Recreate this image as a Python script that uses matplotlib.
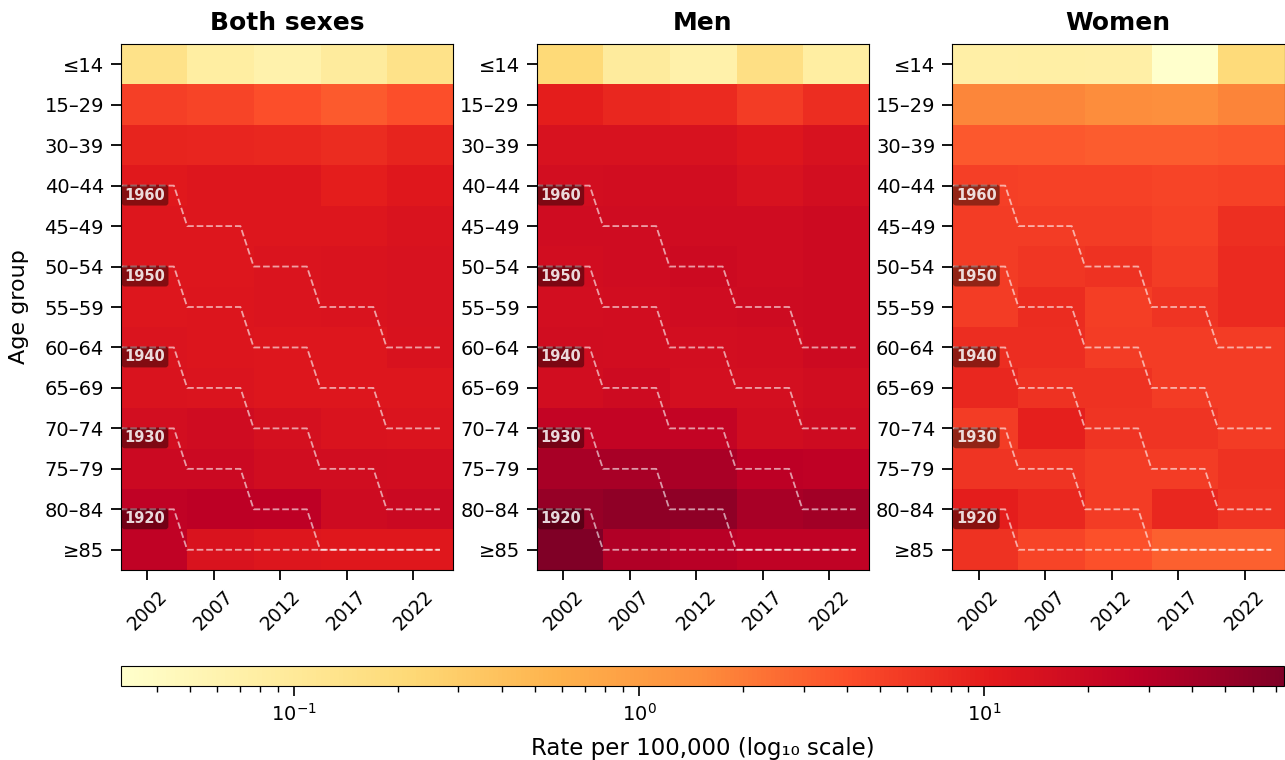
import numpy as np
import matplotlib
matplotlib.use("Agg")
import matplotlib.pyplot as plt
from matplotlib.colors import LogNorm

age_groups = ["≤14", "15–29", "30–39", "40–44", "45–49", "50–54", "55–59",
              "60–64", "65–69", "70–74", "75–79", "80–84", "≥85"]
years = [2002, 2007, 2012, 2017, 2022]
panel_titles = ["Both sexes", "Men", "Women"]

both = [
    [0.14, 0.08, 0.065, 0.09, 0.14],
    [5.2, 4.8, 4.0, 3.3, 4.0],
    [8.8, 8.5, 8.3, 7.5, 8.7],
    [11.0, 12.0, 12.0, 10.0, 11.5],
    [12.2, 12.3, 12.3, 12.3, 13.5],
    [12.0, 12.3, 12.8, 13.2, 14.2],
    [12.0, 12.5, 12.8, 13.2, 14.0],
    [12.8, 12.5, 12.3, 12.3, 13.8],
    [13.2, 12.8, 12.3, 12.0, 12.3],
    [16.0, 17.5, 15.0, 13.2, 12.8],
    [19.0, 19.0, 17.0, 17.0, 16.5],
    [25.0, 27.5, 27.0, 18.0, 19.5],
    [25.0, 13.2, 12.0, 11.5, 11.5],
]
men = [
    [0.21, 0.09, 0.066, 0.16, 0.08],
    [10.0, 8.3, 7.7, 5.5, 7.2],
    [14.0, 14.0, 14.0, 12.3, 14.0],
    [15.8, 16.5, 16.5, 14.0, 16.0],
    [17.3, 17.3, 17.3, 17.3, 18.5],
    [16.5, 17.3, 18.5, 17.5, 18.5],
    [16.0, 16.5, 17.3, 17.8, 18.5],
    [17.0, 16.5, 16.0, 16.5, 18.5],
    [16.5, 18.0, 15.5, 15.5, 17.0],
    [24.0, 24.0, 24.0, 17.0, 18.0],
    [39.0, 39.0, 37.0, 28.0, 26.0],
    [51.0, 58.0, 58.0, 38.0, 42.0],
    [74.0, 33.0, 29.0, 25.0, 25.0],
]
women = [
    [0.072, 0.075, 0.072, 0.0315, 0.2],
    [1.7, 1.7, 1.5, 1.4, 1.75],
    [3.4, 3.4, 3.2, 3.2, 3.4],
    [5.2, 5.0, 5.0, 4.8, 5.0],
    [5.5, 5.5, 5.5, 5.0, 7.0],
    [5.5, 6.2, 6.7, 5.5, 7.8],
    [5.5, 7.5, 5.4, 6.4, 7.8],
    [7.2, 7.2, 5.5, 5.5, 5.5],
    [8.2, 6.6, 6.6, 5.5, 5.5],
    [5.5, 9.5, 6.5, 6.5, 5.5],
    [6.5, 6.5, 5.5, 5.5, 6.7],
    [10.0, 8.2, 5.5, 8.2, 6.5],
    [6.7, 4.8, 3.8, 3.0, 3.0],
]
cohorts = [1960, 1950, 1940, 1930, 1920]
line_years = list(range(2000, 2025))

panels = [np.array(both), np.array(men), np.array(women)]
allv = np.concatenate([p.ravel() for p in panels])
norm = LogNorm(vmin=allv.min(), vmax=allv.max())
cmap = plt.get_cmap("YlOrRd")


def age_row(a):
    if a <= 14:
        return 0
    if a <= 29:
        return 1
    if a <= 39:
        return 2
    if a >= 85:
        return 12
    return 3 + (a - 40) // 5


W, H = 1285, 760
fig = plt.figure(figsize=(W / 100, H / 100), dpi=100)
lefts = [120.7, 536.5, 952.0]
aw = 332.5
top, bottom = 44, 570
axes = []
for i, (data, title) in enumerate(zip(panels, panel_titles)):
    ax = fig.add_axes([lefts[i] / W, 1 - bottom / H, aw / W, (bottom - top) / H])
    im = ax.imshow(data, cmap=cmap, norm=norm, aspect="auto",
                   interpolation="nearest",
                   extent=[2000, 2025, len(age_groups) - 0.5, -0.5])
    ax.set_xlim(2000, 2025)
    ax.set_ylim(len(age_groups) - 0.5, -0.5)
    ax.set_yticks(range(len(age_groups)))
    ax.set_yticklabels(age_groups, fontsize=14)
    ax.set_xticks(years)
    ax.set_xticklabels([str(y) for y in years], rotation=45, fontsize=13.5)
    ax.tick_params(length=7, width=1.3, pad=5)
    ax.set_title(title, fontsize=18, fontweight="bold", pad=10)
    for c in cohorts:
        rows = [age_row(y - c) for y in line_years]
        ax.plot(line_years, rows, color="white", alpha=0.6, lw=1.3, ls="--")
        ax.text(2000.3, rows[0] + 0.05, str(c), fontsize=10.5, fontweight="bold",
                color="white", alpha=0.85, ha="left", va="top",
                bbox=dict(boxstyle="round,pad=0.2", facecolor="black",
                          alpha=0.4, edgecolor="none"))
    if i == 0:
        ax.set_ylabel("Age group", fontsize=16, labelpad=11)
    axes.append(ax)

cax = fig.add_axes([120.7 / W, 1 - 686 / H, (1284 - 120.7) / W, 20.5 / H])
cb = fig.colorbar(im, cax=cax, orientation="horizontal")
cb.set_label("Rate per 100,000 (log₁₀ scale)", fontsize=16.5, labelpad=9)
cb.ax.tick_params(which="major", labelsize=14, length=7, width=1.2, pad=5)
cb.ax.tick_params(which="minor", length=4, width=1.0)

fig.savefig("out.png", dpi=100)
